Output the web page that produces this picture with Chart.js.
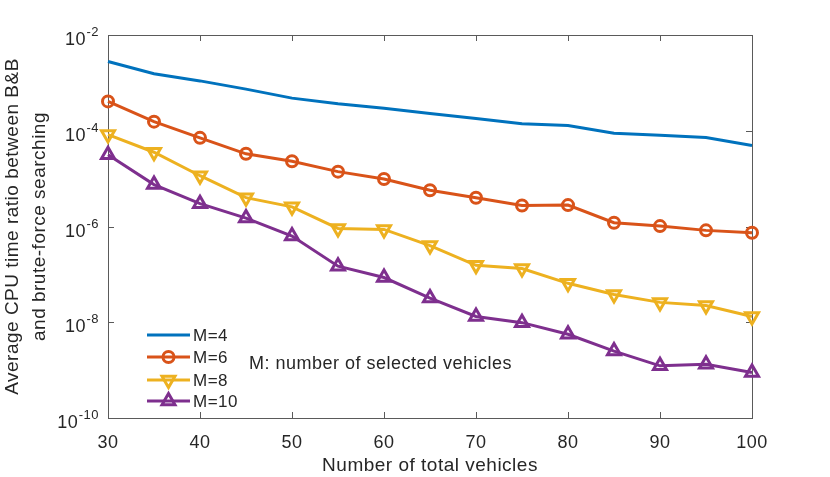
<!DOCTYPE html>
<html>
<head>
<meta charset="utf-8">
<script src="https://cdn.jsdelivr.net/npm/chart.js@4"></script>
<style>
  html, body { margin: 0; padding: 0; background: #fff; }
  #wrap { width: 830px; height: 477px; }
</style>
</head>
<body>
<div id="wrap"><canvas id="chart" width="830" height="477"></canvas></div>
<script>
// values (log scale)
const vehicles = [30, 35, 40, 45, 50, 55, 60, 65, 70, 75, 80, 85, 90, 95, 100];
const ratioM4 = [2.8e-3, 1.55e-3, 1.1e-3, 7.4e-4, 4.8e-4, 3.65e-4, 2.96e-4, 2.3e-4, 1.8e-4, 1.4e-4, 1.29e-4, 8.9e-5, 8.1e-5, 7.2e-5, 4.9e-5];
const ratioM6 = [4.1e-4, 1.55e-4, 7.1e-5, 3.3e-5, 2.3e-5, 1.4e-5, 9.8e-6, 5.7e-6, 4.0e-6, 2.75e-6, 2.8e-6, 1.2e-6, 1.02e-6, 8.3e-7, 7.4e-7];
const ratioM8 = [8.3e-5, 3.56e-5, 1.15e-5, 4.0e-6, 2.57e-6, 9.1e-7, 8.7e-7, 4.0e-7, 1.55e-7, 1.32e-7, 6.5e-8, 3.8e-8, 2.6e-8, 2.24e-8, 1.32e-8];
const ratioM10 = [3.16e-5, 7.5e-6, 3.0e-6, 1.5e-6, 6.3e-7, 1.48e-7, 8.6e-8, 3.2e-8, 1.32e-8, 9.8e-9, 5.6e-9, 2.5e-9, 1.23e-9, 1.33e-9, 8.9e-10];
const seriesNames = ['M=4', 'M=6', 'M=8', 'M=10'];
const yExponents = [-10, -8, -6, -4, -2];
const noteText = 'M: number of selected vehicles';
const xTitle = 'Number of total vehicles';
const yTitle = ['Average CPU time ratio between B&B', 'and brute-force searching'];

const colors = ['#0072BD', '#D95319', '#EDB120', '#7E2F8E'];
const textColor = '#262626';
const axisColor = '#5a5a5a';
const fontFamily = "'Liberation Sans', Arial, Helvetica, sans-serif";

Chart.defaults.font.family = fontFamily;
Chart.defaults.color = textColor;

function series(i, values, style, rot) {
  return {
    label: seriesNames[i],
    data: vehicles.map((v, k) => ({ x: v, y: values[k] })),
    borderColor: colors[i],
    backgroundColor: colors[i],
    borderWidth: 3,
    pointStyle: style || 'circle',
    pointRotation: rot || 0,
    pointRadius: style ? (style === 'circle' ? 5.5 : 7.5) : 0,
    pointHoverRadius: 0,
    pointBorderWidth: 3,
    pointBackgroundColor: 'rgba(0,0,0,0)',
    pointBorderColor: colors[i],
    tension: 0,
    clip: false
  };
}

const datasets = [
  series(0, ratioM4, null, 0),
  series(1, ratioM6, 'circle', 0),
  series(2, ratioM8, 'triangle', 180),
  series(3, ratioM10, 'triangle', 0)
];

function marker(ctx, ds, x, y) {
  const r = ds.pointRadius;
  if (!r) return;
  ctx.beginPath();
  if (ds.pointStyle === 'circle') {
    ctx.arc(x, y, r, 0, Math.PI * 2);
  } else {
    let rad = ds.pointRotation * Math.PI / 180;
    ctx.moveTo(x + Math.sin(rad) * r, y - Math.cos(rad) * r);
    rad += Math.PI * 2 / 3;
    ctx.lineTo(x + Math.sin(rad) * r, y - Math.cos(rad) * r);
    rad += Math.PI * 2 / 3;
    ctx.lineTo(x + Math.sin(rad) * r, y - Math.cos(rad) * r);
    ctx.closePath();
  }
  ctx.lineWidth = ds.pointBorderWidth;
  ctx.strokeStyle = ds.pointBorderColor;
  ctx.stroke();
}

const spacing = {
  id: 'spacing',
  beforeDraw(chart) { chart.ctx.letterSpacing = '0.5px'; }
};

// box and inward ticks on all four sides
const frame = {
  id: 'frame',
  beforeDatasetsDraw(chart) {
    const { ctx, chartArea: a, scales: { x, y } } = chart;
    const t = 6;
    ctx.save();
    ctx.strokeStyle = axisColor;
    ctx.lineWidth = 1;
    ctx.strokeRect(a.left + 0.5, a.top + 0.5, a.right - a.left, a.bottom - a.top);
    ctx.beginPath();
    x.ticks.forEach(tk => {
      const px = Math.round(x.getPixelForValue(tk.value)) + 0.5;
      ctx.moveTo(px, a.bottom); ctx.lineTo(px, a.bottom - t);
      ctx.moveTo(px, a.top); ctx.lineTo(px, a.top + t);
    });
    yExponents.forEach(e => {
      const py = Math.round(y.getPixelForValue(Math.pow(10, e))) + 0.5;
      ctx.moveTo(a.left, py); ctx.lineTo(a.left + t, py);
      ctx.moveTo(a.right, py); ctx.lineTo(a.right - t, py);
    });
    ctx.stroke();
    ctx.restore();
  },
  afterDraw(chart) {
    const { ctx, chartArea: a, scales: { y } } = chart;
    ctx.save();
    ctx.fillStyle = textColor;
    ctx.textBaseline = 'alphabetic';
    ctx.textAlign = 'left';
    // y tick labels 10^e
    yExponents.forEach(e => {
      const py = y.getPixelForValue(Math.pow(10, e));
      const sup = String(e);
      ctx.font = '13px ' + fontFamily;
      const sw = ctx.measureText(sup).width;
      const supX = a.left - 9 - sw;
      ctx.fillText(sup, supX, py + 1);
      ctx.font = '18px ' + fontFamily;
      const bw = ctx.measureText('10').width;
      ctx.fillText('10', supX - bw - 0.5, py + 10);
    });
    // legend
    const rows = [-83, -61, -38, -17];
    ctx.font = '17px ' + fontFamily;
    ctx.textBaseline = 'middle';
    chart.data.datasets.forEach((ds, i) => {
      const ly = a.bottom + rows[i];
      const x0 = a.left + 39, x1 = a.left + 82;
      ctx.beginPath();
      ctx.moveTo(x0, ly); ctx.lineTo(x1, ly);
      ctx.lineWidth = ds.borderWidth;
      ctx.strokeStyle = ds.borderColor;
      ctx.stroke();
      marker(ctx, ds, (x0 + x1) / 2, ly);
      ctx.fillStyle = textColor;
      ctx.fillText(ds.label, a.left + 85, ly + 1);
    });
    ctx.font = '18px ' + fontFamily;
    ctx.fillText(noteText, a.left + 141, a.bottom - 54);
    ctx.restore();
  }
};

new Chart(document.getElementById('chart'), {
  type: 'line',
  data: { datasets },
  options: {
    responsive: false,
    animation: false,
    events: [],
    layout: { padding: { top: 35, right: 78, left: 0, bottom: 0 } },
    plugins: { legend: { display: false }, tooltip: { enabled: false } },
    scales: {
      x: {
        type: 'linear',
        min: 30,
        max: 100,
        grid: { display: false },
        border: { display: false },
        ticks: { stepSize: 10, autoSkip: false, padding: 6, color: textColor, font: { size: 18 } },
        title: { display: true, text: xTitle, color: textColor, font: { size: 19 }, padding: { top: 0, bottom: 0 } },
        afterFit(scale) { scale.height = 59; }
      },
      y: {
        type: 'logarithmic',
        min: 1e-10,
        max: 1e-2,
        grid: { display: false },
        border: { display: false },
        ticks: { display: false },
        title: { display: true, text: yTitle, color: textColor, font: { size: 19, lineHeight: 1.38 }, padding: { top: 0, bottom: 0 } },
        afterFit(scale) { scale.width = 108; }
      }
    }
  },
  plugins: [spacing, frame]
});
</script>
</body>
</html>
